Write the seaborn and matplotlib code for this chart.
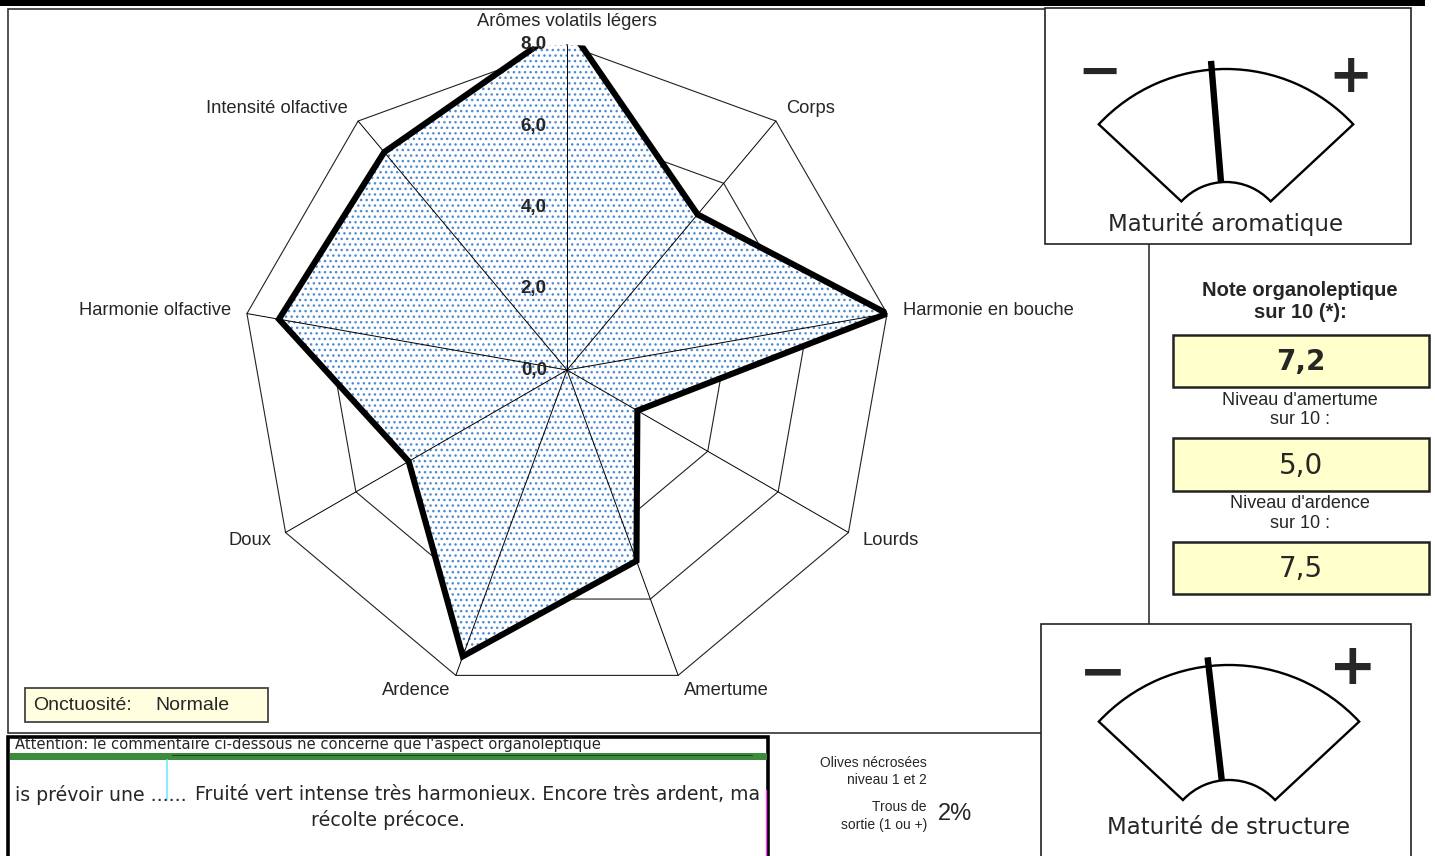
import numpy as np
import pandas as pd
import matplotlib
matplotlib.use('Agg')
import matplotlib.pyplot as plt
from matplotlib import font_manager
from matplotlib.patches import Rectangle, Wedge
import seaborn as sns

criteres = ['Arômes volatils légers', 'Corps', 'Harmonie en bouche', 'Lourds', 'Amertume',
            'Ardence', 'Doux', 'Harmonie olfactive', 'Intensité olfactive']
notes = [8.5, 5.0, 8.0, 2.0, 5.0, 7.5, 4.5, 7.2, 7.0]
graduations = [0, 2, 4, 6, 8]
etiquettes_grad = ['0,0', '2,0', '4,0', '6,0', '8,0']

note_orga = '7,2'
niveau_amertume = '5,0'
niveau_ardence = '7,5'
onctuosite = 'Normale'
trous_sortie = '2%'
maturite_aromatique = 4.5   # position de l'aiguille, echelle 0-10
maturite_structure = 4.3

entete = "Attention: le commentaire ci-dessous ne concerne que l'aspect organoleptique"
comm_debut = 'is prévoir une ......'
comm_suite = 'Fruité vert intense très harmonieux. Encore très ardent, ma'
comm_fin = 'récolte précoce.'

sns.set_theme(style='white')
plt.rcParams['font.family'] = ['Liberation Sans', 'DejaVu Sans']
plt.rcParams['hatch.linewidth'] = 1.0

noms = {f.name for f in font_manager.fontManager.ttflist}
if 'Liberation Sans Narrow' in noms:
    ETROIT, k = 'Liberation Sans Narrow', 1.0
else:
    ETROIT, k = 'Liberation Sans', 0.83

W, H = 1435, 856
fig = plt.figure(figsize=(W / 100, H / 100), dpi=100)
bg = fig.add_axes([0, 0, 1, 1], zorder=0)
bg.set_xlim(0, W)
bg.set_ylim(H, 0)
bg.axis('off')


def boite(x0, y0, x1, y1, z=1, **kw):
    bg.add_patch(Rectangle((x0, y0), x1 - x0, y1 - y0, zorder=z, **kw))


# cadre du graphique + bandeau noir
boite(8, 9, 1149, 733, fc='white', ec='#333333', lw=1.2)
boite(0, 0, 1425, 6, z=6, fc='black', ec='none')


def jauge(cx, cy, R, r, valeur, titre, ymoins, yplus, taille, ytitre):
    bg.add_patch(Wedge((cx, cy), R, -137, -43, width=R - r, fc='white', ec='black',
                       lw=1.7, zorder=3))
    a = np.deg2rad((valeur / 10 - 0.5) * 94)
    rho = np.array([r, R * 1.05])
    bg.plot(cx + rho * np.sin(a), cy - rho * np.cos(a), color='black', lw=4.6,
            solid_capstyle='butt', zorder=4)
    bg.text(cx - 126, ymoins, '\u2212', ha='center', va='center', fontsize=taille,
            fontweight='bold', family='DejaVu Sans', zorder=4)
    bg.text(cx + 124, yplus, '+', ha='center', va='center', fontsize=taille,
            fontweight='bold', family='DejaVu Sans', zorder=4)
    bg.text(cx, ytitre, titre, ha='center', va='center',
            fontsize=16.5, family='DejaVu Sans', zorder=4)


boite(1045, 8, 1411, 244, z=2, fc='white', ec='#222222', lw=1.2)
jauge(1226, 243, 174, 61, maturite_aromatique, 'Maturité aromatique', 73, 77, 38, 224)
boite(1041, 624, 1411, 880, z=2, fc='white', ec='#222222', lw=1.2)
jauge(1229, 843, 178, 63, maturite_structure, 'Maturité de structure', 674, 669, 41, 827)

# notes a droite
bg.text(1300, 290, 'Note organoleptique', ha='center', va='center', fontsize=14.5,
        fontweight='bold')
bg.text(1300, 313, 'sur 10 (*):', ha='center', va='center', fontsize=14.5, fontweight='bold')
cases = [(335, 387, note_orga, 'bold'), (438, 491, niveau_amertume, 'normal'),
         (542, 594, niveau_ardence, 'normal')]
for y0, y1, txt, poids in cases:
    boite(1173, y0, 1429, y1, z=2, fc='#FFFFCC', ec='#222222', lw=1.8)
    bg.text(1301, (y0 + y1) / 2 + 1, txt, ha='center', va='center', fontsize=20,
            fontweight=poids, family='DejaVu Sans', zorder=3)
bg.text(1300, 400, "Niveau d'amertume", ha='center', va='center', fontsize=13)
bg.text(1300, 419, 'sur 10 :', ha='center', va='center', fontsize=13)
bg.text(1300, 503, "Niveau d'ardence", ha='center', va='center', fontsize=13)
bg.text(1300, 524, 'sur 10 :', ha='center', va='center', fontsize=13)

# onctuosite
boite(25, 688, 268, 722, z=2, fc='#FFFFE0', ec='#444444', lw=1.3)
bg.text(33, 705, 'Onctuosité:', ha='left', va='center', fontsize=14, zorder=3)
bg.text(155, 705, onctuosite, ha='left', va='center', fontsize=14, zorder=3)

# commentaire
boite(8, 737, 768, 880, z=2, fc='white', ec='black', lw=2.6)
boite(9.5, 753, 766.5, 760, z=3, fc='#3d8b3d', ec='none')
bg.plot([172, 752], [755, 755], color='#1d4a1d', lw=0.8, zorder=4)
bg.plot([167, 167], [760, 800], color='#80eaff', lw=1.3, zorder=4)
bg.plot([765.5, 765.5], [790, 856], color='#ff40ff', lw=1.0, zorder=4)
bg.text(15, 745, entete, ha='left', va='center', fontsize=10.6, family='DejaVu Sans', zorder=4)
bg.text(15, 795, comm_debut, ha='left', va='center', fontsize=13.6, family='DejaVu Sans', zorder=4)
bg.text(195, 795, comm_suite, ha='left', va='center', fontsize=13.6, family='DejaVu Sans', zorder=4)
bg.text(388, 820, comm_fin, ha='center', va='center', fontsize=13.8, family='DejaVu Sans', zorder=4)

# olives
bg.text(927, 763, 'Olives nécrosées', ha='right', va='center', fontsize=10)
bg.text(927, 780, 'niveau 1 et 2', ha='right', va='center', fontsize=10)
bg.text(927, 807, 'Trous de', ha='right', va='center', fontsize=10)
bg.text(927, 825, 'sortie (1 ou +)', ha='right', va='center', fontsize=10)
bg.text(938, 814, trous_sortie, ha='left', va='center', fontsize=17)

# --- radar ---
ax = fig.add_axes([242 / W, 1 - 695 / H, 650 / W, 650 / H], projection='polar', zorder=2)
ax.set_theta_zero_location('N')
ax.set_theta_direction(-1)
ax.set_facecolor('none')

angles = np.linspace(0, 2 * np.pi, len(criteres), endpoint=False)
ferme = np.append(angles, angles[0])
notes_fermees = np.append(notes, notes[0])

for g in graduations[1:]:
    ax.plot(ferme, np.full(len(ferme), g), color='#222222', lw=0.8, zorder=1, clip_on=False)

ax.fill(ferme, notes_fermees, facecolor='white', edgecolor='#4f8bd0', hatch='...', lw=0, zorder=2)

for a in angles:
    ax.plot([a, a], [0, graduations[-1]], color='black', lw=0.7, zorder=3, clip_on=False)

df = pd.DataFrame({'theta': ferme, 'note': notes_fermees})
sns.lineplot(data=df, x='theta', y='note', sort=False, estimator=None, color='black',
             lw=4.4, ax=ax, zorder=4)
for ln in ax.lines[-1:]:
    ln.set_solid_joinstyle('miter')

for a, lab in zip(angles, criteres):
    s = np.sin(a)
    ha = 'left' if s > 0.1 else ('right' if s < -0.1 else 'center')
    rr = 8.58 if ha == 'center' else 8.4
    ax.text(a, rr, lab, ha=ha, va='center', fontsize=16 * k, family=ETROIT, zorder=5)

for g, lab in zip(graduations, etiquettes_grad):
    ax.annotate(lab, xy=(0, g), xytext=(-14.5, 0), textcoords='offset points', ha='right',
                va='center', fontsize=13.5, fontweight='bold', family=ETROIT,
                annotation_clip=False, zorder=6)

ax.set_ylim(0, graduations[-1])
ax.set_xticks([])
ax.set_yticks([])
ax.grid(False)
ax.spines['polar'].set_visible(False)
ax.set_xlabel('')
ax.set_ylabel('')

fig.savefig('out.png', dpi=100)
